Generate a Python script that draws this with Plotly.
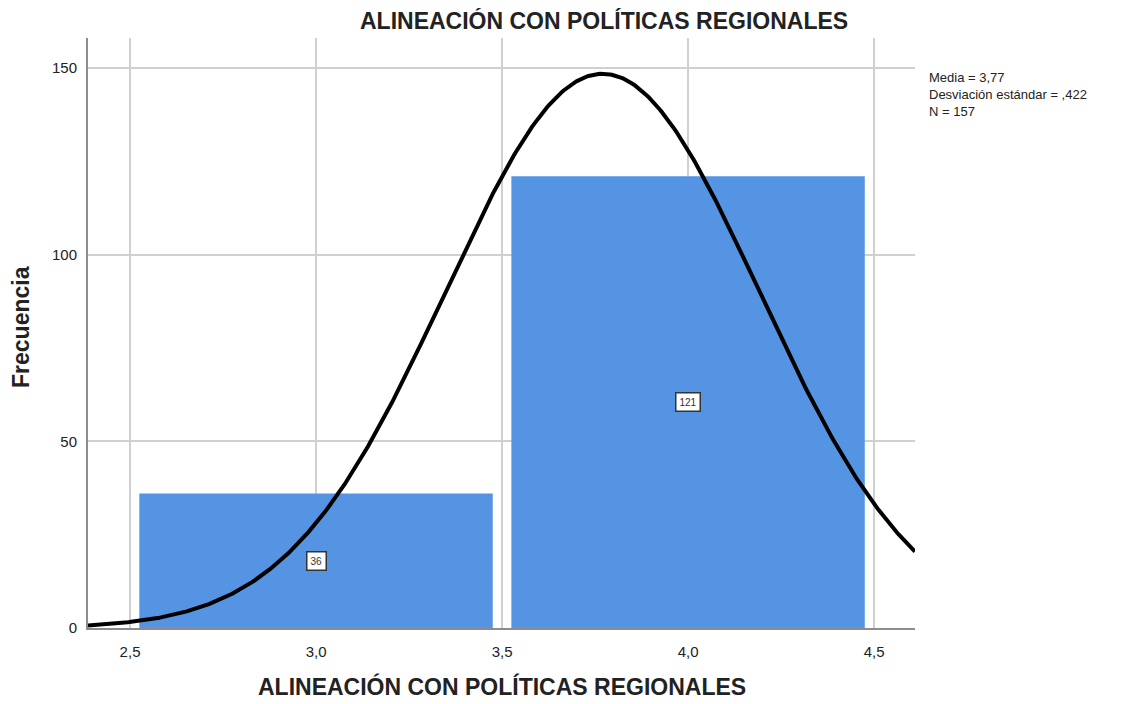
import numpy as np
import plotly.graph_objects as go

# Data
categories = [3.0, 4.0]
frequencies = [36, 121]
bar_labels = ["36", "121"]
media = 3.77
desv = 0.422
n_total = 157
bin_width = 1.0
stats_lines = ["Media = 3,77", "Desviación estándar = ,422", "N = 157"]
x_tickvals = [2.5, 3.0, 3.5, 4.0, 4.5]
x_ticktext = ["2,5", "3,0", "3,5", "4,0", "4,5"]
y_tickvals = [0, 50, 100, 150]
y_ticktext = ["0", "50", "100", "150"]
title_text = "ALINEACIÓN CON POLÍTICAS REGIONALES"

x_range = [2.387, 4.61]
y_range = [0, 158]

FONT = "Liberation Sans, Arial, sans-serif"
W, H = 1121, 696
ML, MR, MT, MB = 80, 214, 30, 76
PW, PH = W - ML - MR, H - MT - MB

# normal curve defined by the displayed statistics
xc = np.linspace(x_range[0], x_range[1], 500)
yc = n_total * bin_width / (desv * np.sqrt(2 * np.pi)) * np.exp(-0.5 * ((xc - media) / desv) ** 2)

fig = go.Figure()
fig.add_trace(go.Bar(x=categories, y=frequencies, width=0.95,
                     marker=dict(color="#5594E3", line=dict(width=0)),
                     hoverinfo="skip"))
fig.add_trace(go.Scatter(x=xc, y=yc, mode="lines",
                         line=dict(color="black", width=4), hoverinfo="skip"))

for c, f, lab in zip(categories, frequencies, bar_labels):
    fig.add_annotation(x=c, y=f / 2, text=lab, showarrow=False,
                       font=dict(family=FONT, size=10, color="#333"),
                       bgcolor="white", bordercolor="#333333", borderwidth=1.5, borderpad=3)

fig.add_annotation(xref="paper", yref="paper",
                   x=1.0 + 12 / PW, y=1 - 30 / PH,
                   xanchor="left", yanchor="top", align="left", showarrow=False,
                   text="<br>".join(stats_lines),
                   font=dict(family=FONT, size=13, color="#222"))

# chart title
fig.add_annotation(xref="paper", yref="paper", x=(596 - ML) / PW, y=1 + (MT - 12) / PH,
                   xanchor="center", yanchor="middle", showarrow=False,
                   text="<b>" + title_text + "</b>",
                   font=dict(family=FONT, size=23, color="#222"))
# x axis title
fig.add_annotation(xref="paper", yref="paper", x=0.5, y=-58 / PH,
                   xanchor="center", yanchor="middle", showarrow=False,
                   text="<b>" + title_text + "</b>",
                   font=dict(family=FONT, size=23, color="#222"))
# y axis title
fig.add_annotation(xref="paper", yref="paper", x=-(ML - 13) / PW, y=0.5 + 6 / PH,
                   xanchor="center", yanchor="middle", showarrow=False, textangle=-90,
                   text="<b>Frecuencia</b>",
                   font=dict(family=FONT, size=23, color="#222"))

fig.update_layout(
    width=W, height=H,
    margin=dict(l=ML, r=MR, t=MT, b=MB),
    paper_bgcolor="white", plot_bgcolor="white",
    showlegend=False,
    font=dict(family=FONT, size=15, color="#222"),
    xaxis=dict(range=x_range, tickvals=x_tickvals, ticktext=x_ticktext,
               showgrid=True, gridcolor="#d0d0d0", gridwidth=2,
               showline=True, linecolor="#8c8c8c", linewidth=1.5,
               zeroline=False, ticks="", ticklabelstandoff=9),
    yaxis=dict(range=y_range, tickvals=y_tickvals, ticktext=y_ticktext,
               showgrid=True, gridcolor="#d0d0d0", gridwidth=2,
               showline=True, linecolor="#8c8c8c", linewidth=2,
               zeroline=False, ticks="", ticklabelstandoff=6),
)

fig.write_html("out.html")
